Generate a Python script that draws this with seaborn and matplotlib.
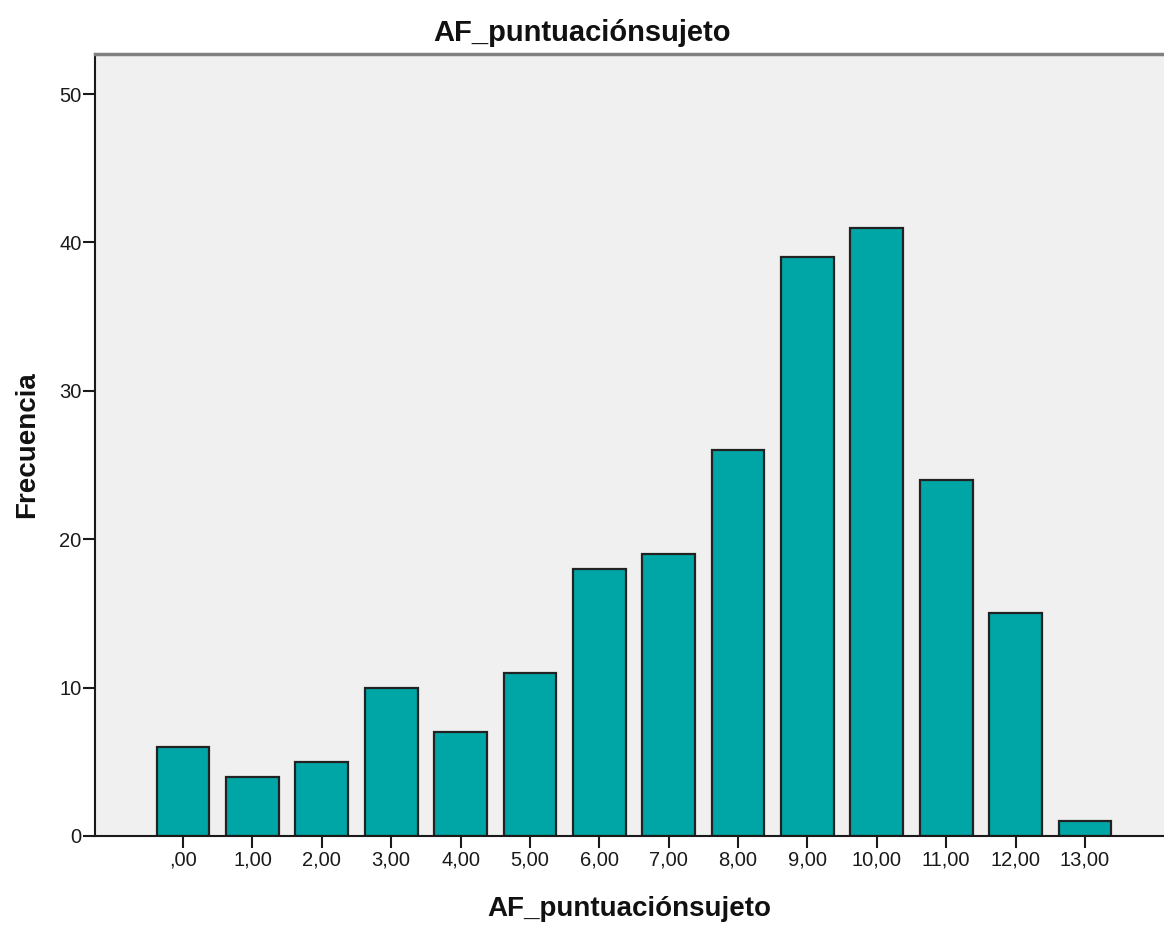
import seaborn as sns
import matplotlib
matplotlib.use('Agg')
import matplotlib.pyplot as plt
import pandas as pd

# frecuencias por puntuación
categorias = [',00', '1,00', '2,00', '3,00', '4,00', '5,00', '6,00',
              '7,00', '8,00', '9,00', '10,00', '11,00', '12,00', '13,00']
frecuencias = [6, 4, 5, 10, 7, 11, 18, 19, 26, 39, 41, 24, 15, 1]
yticks = [0, 10, 20, 30, 40, 50]

sns.set_style('ticks')
plt.rcParams['font.family'] = ['Liberation Sans', 'DejaVu Sans']

df = pd.DataFrame({'x': categorias, 'y': frecuencias})

fig = plt.figure(figsize=(11.64, 9.26), dpi=100)
ax = fig.add_axes([0.0816, 0.0972, 0.9184, 0.8445])
ax.set_facecolor('#f0f0f0')

sns.barplot(data=df, x='x', y='y', order=categorias, color='#00a6a6',
            saturation=1, width=0.76, edgecolor='#222222', linewidth=1.6, ax=ax)

ax.set_xlim(-1.27, 14.14)
ax.set_ylim(0, 52.7)
ax.set_yticks(yticks)

ax.spines['right'].set_visible(False)
ax.spines['top'].set_color('#808080')
ax.spines['top'].set_linewidth(2.5)
for s in ['left', 'bottom']:
    ax.spines[s].set_linewidth(1.5)
    ax.spines[s].set_color('#1a1a1a')

ax.tick_params(axis='both', length=8.6, width=1.5, labelsize=14.5, colors='#1a1a1a',
               labelcolor='#1a1a1a')
ax.tick_params(axis='y', pad=1)
ax.tick_params(axis='x', pad=2)

fig.suptitle('AF_puntuaciónsujeto', fontsize=21, fontweight='bold', x=0.5, y=0.9795,
             va='top', color='#111111')
ax.set_xlabel('AF_puntuaciónsujeto', fontsize=20, fontweight='bold', labelpad=19, color='#111111')
ax.set_ylabel('Frecuencia', fontsize=20, fontweight='bold', labelpad=14, color='#111111')

plt.savefig('out.png', dpi=100)
